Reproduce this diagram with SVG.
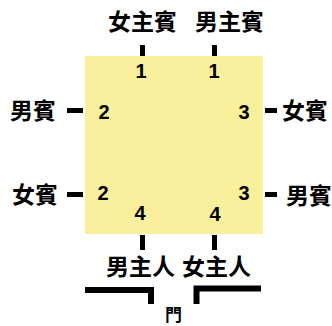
<svg xmlns="http://www.w3.org/2000/svg" width="332" height="326" viewBox="0 0 332 326">
<style>
.lbl{font-family:"Noto Sans CJK TC","Noto Sans CJK SC",sans-serif;font-weight:bold;font-size:23px;fill:#000}
.num{font-family:"Liberation Sans",Arial,sans-serif;font-weight:bold;font-size:20px;fill:#000;text-anchor:middle}
.tick{fill:#000}
.door{fill:none;stroke:#000;stroke-width:6}
</style>
<rect width="332" height="326" fill="#fff"/>
<g id="table">
<rect x="85" y="56" width="178" height="178" fill="#FAEF9D"/>
<text class="num" x="141" y="78">1</text>
<text class="num" x="214" y="78">1</text>
<text class="num" x="104" y="119">2</text>
<text class="num" x="103" y="200">2</text>
<text class="num" x="244" y="119">3</text>
<text class="num" x="244" y="200">3</text>
<text class="num" x="140" y="220">4</text>
<text class="num" x="215" y="221">4</text>
</g>
<g id="connectors">
<rect class="tick" x="140" y="45" width="5" height="11"/>
<rect class="tick" x="212" y="45" width="5" height="11"/>
<rect class="tick" x="67" y="108" width="16" height="5"/>
<rect class="tick" x="67" y="192" width="16" height="5"/>
<rect class="tick" x="265" y="108" width="12" height="5"/>
<rect class="tick" x="265" y="192" width="12" height="5"/>
<rect class="tick" x="140" y="235" width="5" height="15"/>
<rect class="tick" x="212" y="235" width="5" height="15"/>
</g>
<g id="hostess-guest"><text class="lbl" x="108" y="30">女主賓</text></g>
<g id="host-guest"><text class="lbl" x="195" y="30">男主賓</text></g>
<g id="male-guest-left"><text class="lbl" x="10" y="119">男賓</text></g>
<g id="female-guest-left"><text class="lbl" x="12" y="203">女賓</text></g>
<g id="female-guest-right"><text class="lbl" x="282" y="119">女賓</text></g>
<g id="male-guest-right"><text class="lbl" x="286" y="204">男賓</text></g>
<g id="host"><text class="lbl" x="106" y="275">男主人</text></g>
<g id="hostess"><text class="lbl" x="182" y="275">女主人</text></g>
<g id="door">
<polyline class="door" points="85,290 151,290 151,304"/>
<polyline class="door" points="196.5,304 196.5,288.5 261,288.5"/>
<text class="lbl" x="165" y="321" style="font-size:17px">門</text>
</g>
</svg>
